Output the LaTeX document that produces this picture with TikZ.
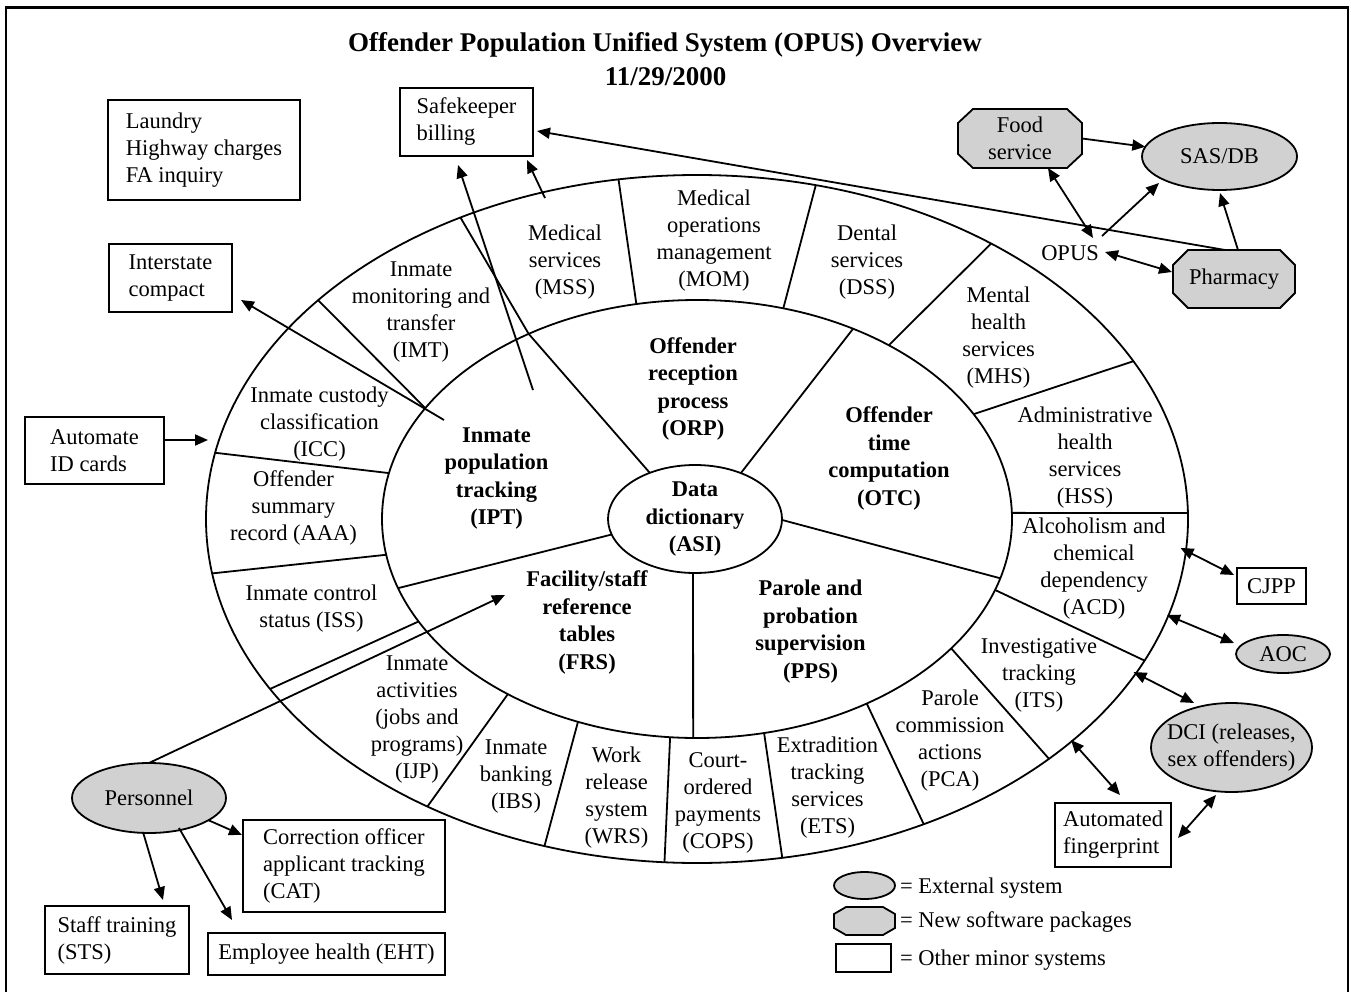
\documentclass[tikz,border=0pt]{standalone}
\usepackage{fontspec}
\setmainfont{Liberation Serif}
\usetikzlibrary{arrows.meta,calc,backgrounds,shapes.geometric}
\newcommand\myoct[3]{([xshift=#2]#1.north west) -- ([xshift=-#2]#1.north east) -- ([yshift=-#3]#1.north east) -- ([yshift=#3]#1.south east) -- ([xshift=-#2]#1.south east) -- ([xshift=#2]#1.south west) -- ([yshift=#3]#1.south west) -- ([yshift=-#3]#1.north west) -- cycle}
\tikzset{mytri/.tip={Triangle[length=13pt,width=11pt]}}
\begin{document}
\begin{tikzpicture}[x=1pt,y=-1pt,
  every node/.style={font=\fontsize{22.5}{27}\selectfont, inner sep=0pt, outer sep=0pt},
  lbl/.style={align=center},
  blbl/.style={align=center,font=\fontsize{22.5}{27.5}\selectfont\bfseries},
  ring/.style={line width=1.8pt},
  arr/.style={line width=1.8pt,-mytri},
  darr/.style={line width=1.8pt,mytri-mytri},
  minor/.style={draw,line width=2.2pt,align=left},
  ext/.style={draw,ellipse,fill=black!18,line width=1.8pt,inner xsep=-15pt,inner ysep=-10pt,align=center},
  pkgline/.style={draw,fill=black!18,line width=1.8pt},
  ttl/.style={font=\fontsize{27}{32}\selectfont\bfseries}
]
\useasboundingbox (0,0) rectangle (1351,992);

% frame
\draw[line width=2.5pt] (6,992) -- (6,7.5) -- (1348,7.5) -- (1348,992);

% title
\node[ttl] (title1) at (665,45) {Offender Population Unified System (OPUS) Overview};
\node[ttl] (title2) at (665.5,77) {11/29/2000};

% rings
\coordinate (C) at (697,519);
\coordinate (Ci) at (695,519);
\draw[ring] (C) ellipse [x radius=491pt,y radius=344pt];
\draw[ring] (C) ellipse [x radius=315pt,y radius=219pt];
\draw[ring] (Ci) ellipse [x radius=87pt,y radius=54pt];

\foreach \m/\o in {149.6/140.5, 122.3/118.8, 101.1/99.2, 74.1/76.0, 52.5/53.2, 28.6/27.3, 1.6/1.0, -18.9/-24.3, -36.2/-44.2, -57.4/-62.5, -77.7/-80.0, -94.9/-93.8, -112.2/-108.1, -126.9/-123.3, -152.1/-150.4, -170.6/-170.9, 167.9/168.9}
  \draw[ring] ($(C)+(\m:315pt and 219pt)$) -- ($(C)+(\o:491pt and 344pt)$);

\foreach \i/\m in {121.3/122.3, 58.2/60.3, -1/-15.7, -91.3/-90.7, -163.3/-161.6}
  \draw[ring] ($(Ci)+(\i:87pt and 54pt)$) -- ($(C)+(\m:315pt and 219pt)$);

% outer ring cells
\node[lbl] (imt) at (421,312.5) {Inmate\\monitoring and\\transfer\\(IMT)};
\node[lbl] (mss) at (565,262.5) {Medical\\services\\(MSS)};
\node[lbl] (mom) at (714,240.5) {Medical\\operations\\management\\(MOM)};
\node[lbl] (dss) at (867,262.5) {Dental\\services\\(DSS)};
\node[lbl] (mhs) at (998.5,337.5) {Mental\\health\\services\\(MHS)};
\node[lbl] (hss) at (1085,457.5) {Administrative\\health\\services\\(HSS)};
\node[lbl] (acd) at (1094,569) {Alcoholism and\\chemical\\dependency\\(ACD)};
\node[lbl] (its) at (1039,675) {Investigative\\tracking\\(ITS)};
\node[lbl] (pca) at (950,741) {Parole\\commission\\actions\\(PCA)};
\node[lbl] (ets) at (827.5,787.5) {Extradition\\tracking\\services\\(ETS)};
\node[lbl] (cops) at (718,802.5) {Court-\\ordered\\payments\\(COPS)};
\node[lbl] (wrs) at (616.5,797.5) {Work\\release\\system\\(WRS)};
\node[lbl] (ibs) at (516,776.5) {Inmate\\banking\\(IBS)};
\node[lbl] (ijp) at (417,720) {Inmate\\activities\\(jobs and\\programs)\\(IJP)};
\node[lbl] (iss) at (311.5,608.5) {Inmate control\\status (ISS)};
\node[lbl] (aaa) at (293.5,507.5) {Offender\\summary\\record (AAA)};
\node[lbl] (icc) at (319.5,424.5) {Inmate custody\\classification\\(ICC)};

% inner ring cells
\node[blbl] (ipt) at (496.5,478.5) {Inmate\\population\\tracking\\(IPT)};
\node[blbl] (orp) at (693,389) {Offender\\reception\\process\\(ORP)};
\node[blbl] (otc) at (889,458.5) {Offender\\time\\computation\\(OTC)};
\node[blbl] (pps) at (810.5,631.5) {Parole and\\probation\\supervision\\(PPS)};
\node[blbl] (frs) at (587,622.5) {Facility/staff\\reference\\tables\\(FRS)};
\node[blbl] (asi) at (695,519.5) {Data\\dictionary\\(ASI)};

% minor systems
\node[minor,minimum width=192,minimum height=100] (laundry) at (204,150) {Laundry\\Highway charges\\FA inquiry};
\node[minor,minimum width=133,minimum height=68] (safe) at (466.5,122) {Safekeeper\\billing};
\node[minor,minimum width=123,minimum height=68] (inter) at (170.5,278) {Interstate\\compact};
\node[minor,minimum width=139,minimum height=67] (autoid) at (94.5,450.5) {Automate\\ID cards};
\node[minor,minimum width=69,minimum height=36] (cjpp) at (1271.5,586) {CJPP};
\node[minor,minimum width=116,minimum height=64] (fp) at (1113,835) {Automated\\fingerprint};
\node[minor,minimum width=202,minimum height=92] (cat) at (344,866) {Correction officer\\applicant tracking\\(CAT)};
\node[minor,minimum width=144,minimum height=68] (sts) at (117,940) {Staff training\\(STS)};
\node[minor,minimum width=237,minimum height=42] (eht) at (326.5,954) {Employee health (EHT)};

% external systems
\node[ext,minimum width=155,minimum height=67] (sas) at (1219.5,156.5) {SAS/DB};
\node[ext,minimum width=94,minimum height=38] (aoc) at (1283,654) {AOC};
\node[ext,minimum width=161,minimum height=89] (dci) at (1231.5,747.5) {DCI (releases,\\sex offenders)};
\node[ext,minimum width=154,minimum height=70] (pers) at (149,798) {Personnel};

% new software packages
\node[lbl,minimum width=124,minimum height=59] (food) at (1020,138.5) {Food\\service};
\node[lbl,minimum width=122,minimum height=58] (pharm) at (1234,279) {Pharmacy};
\node (opus) at (1070,253) {OPUS};

% legend
\node[ext,minimum width=61,minimum height=27] (legext) at (864.5,885.5) {};
\node[minimum width=61,minimum height=28] (legpkg) at (864.5,921) {};
\node[draw,line width=2.2pt,minimum width=55,minimum height=28] (legmin) at (863.5,958) {};
\node[anchor=west] (lt1) at (900,888) {= External system};
\node[anchor=west] (lt2) at (900,922) {= New software packages};
\node[anchor=west] (lt3) at (900,960) {= Other minor systems};

\begin{scope}[on background layer]
\fill[white] (0,0) rectangle (1351,992);
\draw[pkgline] \myoct{food}{15pt}{14pt};
\draw[pkgline] \myoct{pharm}{15pt}{15pt};
\draw[pkgline] \myoct{legpkg}{12pt}{7pt};
\end{scope}

% free ends
\coordinate (iptS) at (533,390);
\coordinate (iptI) at (444,420);
\coordinate (mssS) at (545,198);
\coordinate (ringA) at (208,440);
\coordinate (frsT) at (505,595);
\coordinate (acdE) at (1180.5,548);
\coordinate (acdF) at (1167,615);
\coordinate (itsE) at (1133.5,672);
\coordinate (itsF) at (1071,740);

% connectors
\draw[arr] ([yshift=10.5pt]autoid.east) -- (ringA);
\draw[arr] (iptI) -- ($(inter.south east)+(9,-12)$);
\draw[arr] (iptS) -- ($(safe.south)+(-8.5,9)$);
\draw[arr] (mssS) -- ($(safe.south)+(60.5,4)$);
\draw[arr] ($(pharm.north)+(-9,0)$) -- ($(safe.east)+(4,9)$);
\draw[arr] (food.east) -- (sas);
\draw[darr] ($(food.south)+(28,0)$) -- ($(opus.center)+(23,-15)$);
\draw[arr] ($(opus.center)+(32,-17)$) -- ($(sas.center)+(-60.5,26.5)$);
\draw[darr] ($(opus.center)+(35,-1)$) -- ($(pharm.west)+(-1,-7)$);
\draw[arr] ($(pharm.north)+(4,0)$) -- ($(sas.south)+(0.5,3)$);
\draw[darr] (acdE) -- ($(cjpp.west)+(-3,-11)$);
\draw[darr] (acdF) -- ($(aoc.west)+(-2,-11)$);
\draw[darr] (itsE) -- ($(dci.center)+(-37.5,-44.5)$);
\draw[darr] (itsF) -- ($(fp.north)+(7,-8)$);
\draw[darr] ($(fp.east)+(7,3)$) -- ($(dci.center)+(-15.5,47.5)$);
\draw[arr] (pers.north) -- (frsT);
\draw[arr] ($(pers.center)+(59,22)$) -- ($(cat.west)+(-1,-31)$);
\draw[arr] ($(pers.south)+(-6,-1)$) -- ($(sts.north)+(46,-6)$);
\draw[arr] ($(pers.center)+(30,30)$) -- ($(eht.north)+(-94.5,-13)$);
\end{tikzpicture}
\end{document}
